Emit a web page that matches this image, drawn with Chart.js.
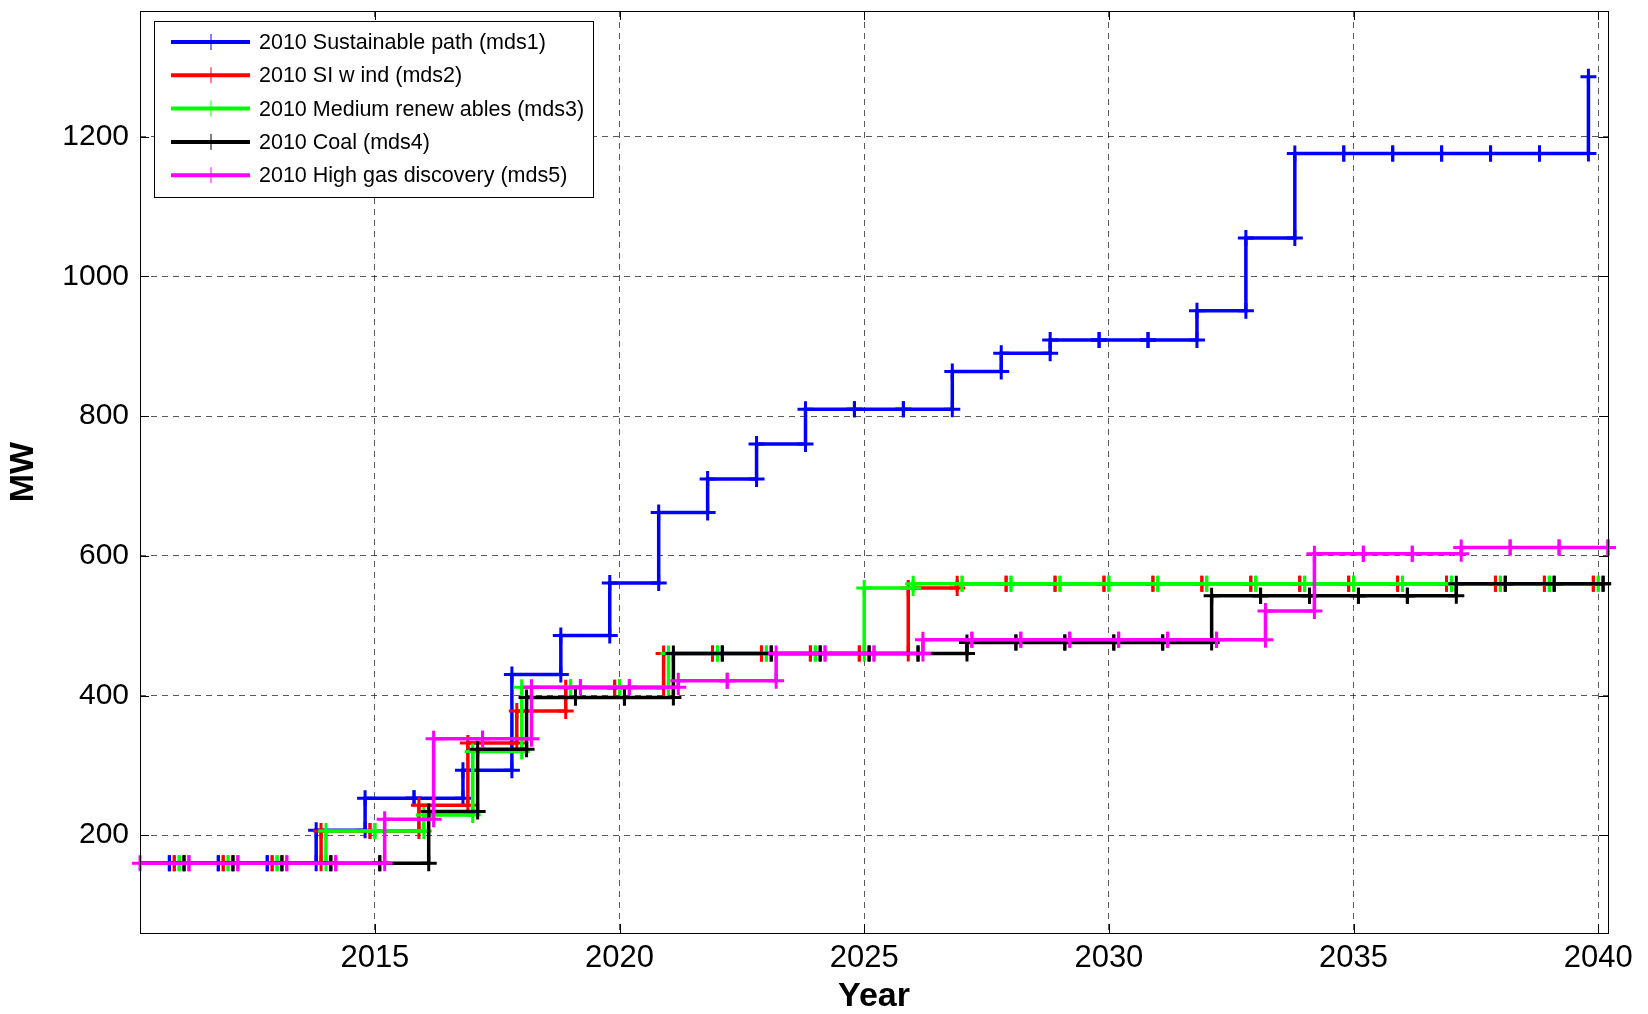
<!DOCTYPE html>
<html>
<head>
<meta charset="utf-8">
<title>Installed capacity by scenario</title>
<script src="https://cdn.jsdelivr.net/npm/chart.js@4.4.1/dist/chart.umd.min.js"></script>
<style>
  html, body { margin: 0; padding: 0; background: #fff; overflow: hidden; }
  canvas { display: block; }
</style>
</head>
<body>
<canvas id="capacityChart" width="1648" height="1014"></canvas>
<script>
// Years covered by every scenario
const years = [2010, 2011, 2012, 2013, 2014, 2015, 2016, 2017, 2018, 2019,
               2020, 2021, 2022, 2023, 2024, 2025, 2026, 2027, 2028, 2029,
               2030, 2031, 2032, 2033, 2034, 2035, 2036, 2037, 2038, 2039, 2040];

// Installed MW per year, one list per scenario
const sustainablePath = [160, 160, 160, 160, 207, 253, 253, 293, 430, 486,
                         561, 662, 710, 760, 810, 810, 810, 864, 890, 909,
                         909, 909, 951, 1055, 1176, 1176, 1176, 1176, 1176, 1176, 1286];
const siWind = [160, 160, 160, 160, 206, 206, 243, 332, 378, 411,
                411, 460, 460, 460, 460, 460, 554, 560, 560, 560,
                560, 560, 560, 560, 560, 560, 560, 560, 560, 560, 560];
const mediumRenewables = [160, 160, 160, 160, 206, 206, 229, 320, 412, 412,
                          412, 460, 460, 460, 460, 554, 560, 560, 560, 560,
                          560, 560, 560, 560, 560, 560, 560, 560, 560, 560, 560];
const coal = [160, 160, 160, 160, 160, 160, 234, 323, 397, 397,
              397, 460, 460, 460, 460, 460, 460, 476, 476, 476,
              476, 476, 543, 543, 543, 543, 543, 560, 560, 560, 560];
const highGas = [160, 160, 160, 160, 160, 223, 338, 338, 412, 412,
                 412, 421, 421, 460, 460, 460, 480, 480, 480, 480,
                 480, 480, 480, 521, 603, 603, 603, 612, 612, 612, 612];

const seriesNames = [
  "2010 Sustainable path (mds1)",
  "2010 SI w ind (mds2)",
  "2010 Medium renew ables (mds3)",
  "2010 Coal (mds4)",
  "2010 High gas discovery (mds5)",
];
const seriesValues = [sustainablePath, siWind, mediumRenewables, coal, highGas];
// each scenario is nudged sideways by a fraction of a year so the steps don't overlap
const seriesShift = [-0.2, -0.1, 0, 0.1, 0.2];
const seriesColors = ["#0000ff", "#ff0000", "#00ff00", "#000000", "#ff00ff"];

// Axis ticks
const yearTicks = [2015, 2020, 2025, 2030, 2035, 2040];
const mwTicks = [200, 400, 600, 800, 1000, 1200];

const FONT = "'Liberation Sans', Arial, Helvetica, sans-serif";

// Turn a yearly series into stair corners: old value then new value at each year
function stairPoints(values, shift) {
  const pts = [];
  values.forEach((v, i) => {
    const x = years[i] + shift;
    if (i > 0) pts.push({ x, y: values[i - 1] });
    pts.push({ x, y: v });
  });
  return pts;
}

function buildDatasets() {
  return seriesValues.map((values, i) => ({
    label: seriesNames[i],
    data: stairPoints(values, seriesShift[i]),
    borderColor: seriesColors[i],
    backgroundColor: seriesColors[i],
    borderWidth: 3.5,
    pointStyle: "cross",
    pointRadius: 8,
    pointHoverRadius: 8,
    pointBorderWidth: 3,
    pointBorderColor: seriesColors[i],
    tension: 0,
    fill: false,
    // later scenarios sit on top
    order: seriesValues.length - i,
    clip: { left: i === seriesValues.length - 1 ? 10 : 0, top: 10, right: 10, bottom: 0 },
  }));
}

// Box around the plot, inward tick marks, and the legend panel
const frameAndLegend = {
  id: "frameAndLegend",
  afterDraw(chart) {
    const { ctx, chartArea: a, scales } = chart;
    ctx.save();
    ctx.strokeStyle = "#000";
    ctx.lineWidth = 1;
    ctx.setLineDash([]);
    ctx.strokeRect(Math.round(a.left) + 0.5, Math.round(a.top) + 0.5,
                   Math.round(a.right - a.left), Math.round(a.bottom - a.top));

    const tickLen = 9;
    ctx.beginPath();
    scales.x.ticks.forEach(t => {
      const px = Math.round(scales.x.getPixelForValue(t.value)) + 0.5;
      ctx.moveTo(px, a.bottom); ctx.lineTo(px, a.bottom - tickLen);
      ctx.moveTo(px, a.top); ctx.lineTo(px, a.top + tickLen);
    });
    scales.y.ticks.forEach(t => {
      const py = Math.round(scales.y.getPixelForValue(t.value)) + 0.5;
      ctx.moveTo(a.left, py); ctx.lineTo(a.left + tickLen, py);
      ctx.moveTo(a.right, py); ctx.lineTo(a.right - tickLen, py);
    });
    ctx.stroke();

    // legend
    const box = { x: 154, y: 21, w: 439, h: 176 };
    ctx.fillStyle = "#fff";
    ctx.fillRect(box.x, box.y, box.w, box.h);
    ctx.strokeRect(box.x + 0.5, box.y + 0.5, box.w, box.h);
    ctx.font = "21.5px " + FONT;
    ctx.textBaseline = "middle";
    ctx.textAlign = "left";
    chart.data.datasets.forEach((ds, i) => {
      const cy = box.y + 21 + i * 33.3;
      ctx.strokeStyle = ds.borderColor;
      ctx.lineWidth = 4;
      ctx.beginPath();
      ctx.moveTo(171, cy); ctx.lineTo(250, cy);
      ctx.stroke();
      ctx.lineWidth = 1;
      ctx.beginPath();
      ctx.moveTo(211, cy - 8); ctx.lineTo(211, cy + 8);
      ctx.stroke();
      ctx.fillStyle = "#000";
      ctx.fillText(ds.label, 259, cy + 1);
    });
    ctx.restore();
  },
};

function renderCapacityChart() {
  const ctx = document.getElementById("capacityChart").getContext("2d");
  Chart.defaults.font.family = FONT;
  Chart.defaults.color = "#000";

  new Chart(ctx, {
    type: "line",
    data: { datasets: buildDatasets() },
    options: {
      responsive: false,
      devicePixelRatio: 1,
      animation: false,
      events: [],
      layout: { padding: { left: 0, top: 7, right: 40, bottom: 0 } },
      plugins: {
        legend: { display: false },
        tooltip: { enabled: false },
      },
      scales: {
        x: {
          type: "linear",
          min: 2010.2,
          max: 2040.2,
          afterBuildTicks: s => { s.ticks = yearTicks.map(v => ({ value: v })); },
          afterFit: s => { s.height = 81; s.paddingLeft = 0; s.paddingRight = 0; },
          ticks: {
            font: { size: 31 },
            padding: 7,
            maxRotation: 0,
            callback: v => String(v),
          },
          grid: { color: "rgba(0,0,0,0.65)", lineWidth: 1, drawTicks: false },
          border: { display: false, dash: [6, 5] },
          title: {
            display: true,
            text: "Year",
            font: { size: 34, weight: "bold", lineHeight: 1 },
            padding: { top: 0, bottom: 0 },
          },
        },
        y: {
          min: 60,
          max: 1380,
          afterBuildTicks: s => { s.ticks = mwTicks.map(v => ({ value: v })); },
          afterFit: s => { s.width = 140; s.paddingTop = 0; s.paddingBottom = 0; },
          ticks: {
            font: { size: 30 },
            padding: 11,
            callback: v => String(v),
          },
          grid: { color: "rgba(0,0,0,0.65)", lineWidth: 1, drawTicks: false },
          border: { display: false, dash: [6, 5] },
          title: {
            display: true,
            text: "MW",
            font: { size: 34, weight: "bold", lineHeight: 1 },
            padding: { top: 7, bottom: 0 },
          },
        },
      },
    },
    plugins: [frameAndLegend],
  });
}

document.addEventListener("DOMContentLoaded", () => {
  renderCapacityChart();
});
</script>
</body>
</html>
